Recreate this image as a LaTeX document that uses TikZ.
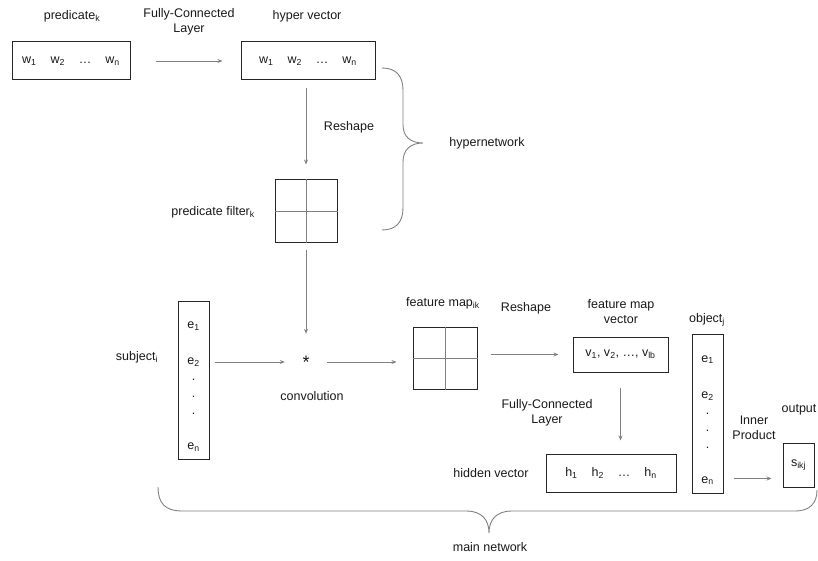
\documentclass[tikz,border=0pt]{standalone}
\usepackage{fontspec}
\setmainfont{Liberation Sans}
\usepackage{tikz}
\usetikzlibrary{arrows.meta,positioning}

\newcommand{\sbs}[1]{\textsubscript{#1}}
\newcommand{\gap}{\hspace{14pt}}
\newcommand{\ecol}{\rule{0pt}{20pt}e\sbs{1}\\[21pt]e\sbs{2}\\[1pt].\\[2pt].\\[2pt].\\[20pt]e\sbs{n}}

\begin{document}
\begin{tikzpicture}[
    x=1pt, y=-1pt,
    font=\fontsize{12.5}{15}\selectfont,
    box/.style={draw=black!85, line width=1pt, inner sep=0pt, align=center, text=black!90},
    grid/.style={draw=black!85, line width=1pt, minimum width=62pt, minimum height=62pt},
    txt/.style={align=center, inner sep=1pt, text=black!90},
    arrow/.style={-{Stealth[length=5pt,width=4pt]}, draw=black!50, line width=0.8pt},
    brace/.style={draw=black!50, line width=0.9pt}
]
\useasboundingbox (0,0) rectangle (818,561);

% hypernetwork
\node[txt] (predlbl) at (72,16) {predicate\sbs{k}};
\node[txt] (fc1lbl) at (189,22) {Fully-Connected\\Layer};
\node[txt] (hyplbl) at (307,16) {hyper vector};
\node[box, minimum width=118pt, minimum height=38pt] (pred) at (71,61)
    {w\sbs{1}\gap w\sbs{2}\gap\dots\gap w\sbs{n}};
\node[box, minimum width=134pt, minimum height=38pt] (hyper) at (308,61)
    {w\sbs{1}\gap w\sbs{2}\gap\dots\gap w\sbs{n}};
\node[txt] (resh1) at (349,127) {Reshape};
\node[grid] (filt) at (306,211) {};
\node[txt, anchor=east] (filtlbl) at (256,212) {predicate filter\sbs{k}};
\node[txt] (hyplbl2) at (487,143) {hypernetwork};

% main network
\node[box, minimum width=31pt, minimum height=158pt] (subj) at (193.5,380) {\ecol};
\node[txt] (subjlbl) at (137,357) {subject\sbs{i}};
\node[inner sep=0pt, minimum width=42pt, minimum height=56pt, text=black!90,
    font=\fontsize{18}{18}\selectfont] (conv) at (306,362) {*};
\node[txt] (convlbl) at (312,396) {convolution};
\node[grid, minimum width=64pt] (fmap) at (445,358) {};
\node[txt] (fmaplbl) at (443,303) {feature map\sbs{ik}};
\node[txt] (resh2) at (526,308) {Reshape};
\node[box, minimum width=95pt, minimum height=35pt] (fvec) at (620.5,354.5)
    {v\sbs{1}, v\sbs{2}, \dots, v\sbs{lb}};
\node[txt] (fveclbl) at (621,312) {feature map\\vector};
\node[txt] (fc2lbl) at (547,413) {Fully-Connected\\Layer};
\node[box, minimum width=130pt, minimum height=38pt] (hid) at (611,473)
    {h\sbs{1}\gap h\sbs{2}\gap\dots\gap h\sbs{n}};
\node[txt] (hidlbl) at (491,473) {hidden vector};
\node[box, minimum width=31pt, minimum height=159pt] (obj) at (707.5,413.5) {\ecol};
\node[txt] (objlbl) at (707,320) {object\sbs{j}};
\node[txt] (iplbl) at (754,428) {Inner\\Product};
\node[box, minimum width=31pt, minimum height=44pt] (out) at (798.5,465) {s\sbs{ikj}};
\node[txt] (outlbl) at (799,410) {output};
\node[txt] (mainlbl) at (490,547) {main network};

% grid lines
\draw[black!50, line width=0.8pt] (filt.north) -- (filt.south) (filt.west) -- (filt.east);
\draw[black!50, line width=0.8pt] (fmap.north) -- (fmap.south) (fmap.west) -- (fmap.east);

% arrows
\draw[arrow, shorten <=25pt, shorten >=18pt] (pred) -- (hyper);
\draw[arrow, shorten <=8pt, shorten >=15pt] (hyper.south -| filt) -- (filt);
\draw[arrow, shorten <=7pt] (filt) -- (conv);
\draw[arrow, shorten <=5pt] (subj.east |- conv) -- (conv);
\draw[arrow, shorten >=16pt] (conv) -- (conv -| fmap.west);
\draw[arrow, shorten <=13pt, shorten >=14pt] (fmap.east |- fvec) -- (fvec);
\draw[arrow, shorten <=15pt, shorten >=13pt] (fvec.south) -- (fvec.south |- hid.north);
\draw[arrow, shorten <=10pt, shorten >=11pt] ([yshift=15pt]obj.south east) -- ([yshift=15pt]obj.south east -| out.west);

% braces
\draw[brace] (382,68) .. controls (396,68) and (403,76) .. (403,90) -- (403,125)
    .. controls (403,136) and (410,143) .. (423,143)
    .. controls (410,143) and (403,150) .. (403,162) -- (403,208)
    .. controls (403,222) and (396,230) .. (382,230);
\draw[brace] (158,487) .. controls (158,503) and (165,511) .. (182,511) -- (466,511)
    .. controls (482,511) and (489,520) .. (489,533)
    .. controls (489,520) and (496,511) .. (512,511) -- (795,511)
    .. controls (810,511) and (817,503) .. (817,490);
\end{tikzpicture}
\end{document}
